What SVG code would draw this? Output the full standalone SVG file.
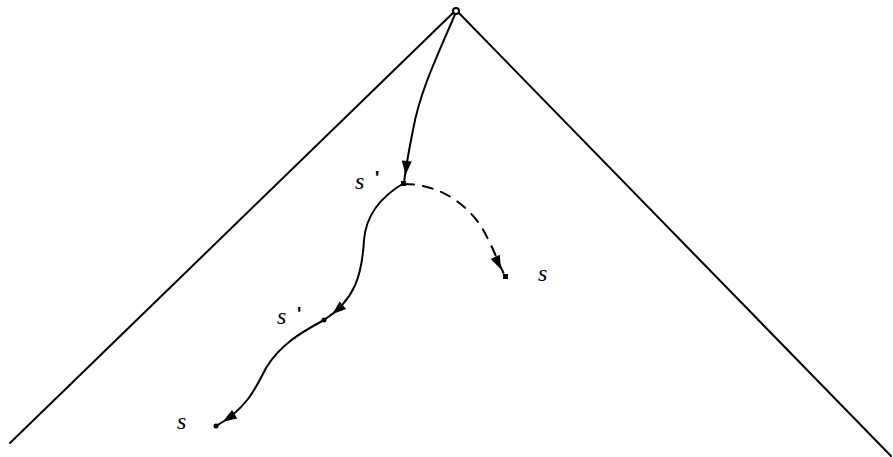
<svg xmlns="http://www.w3.org/2000/svg" width="893" height="457" viewBox="0 0 893 457">
<style>
.ln{fill:none;stroke:#000;stroke-width:2;stroke-linecap:round}
.dash{stroke-dasharray:10,9}
.ah{fill:#000}
.lbl{font-family:"Liberation Serif",serif;font-style:italic;font-size:24px;fill:#000}
.pr{font-family:"Liberation Sans",sans-serif;font-size:18px;fill:#000;font-weight:bold}
</style>
<rect width="893" height="457" fill="#fff"/>
<g id="cone">
<path class="ln" d="M456,10 L10,443"/>
<path class="ln" d="M456,10 L891,456"/>
</g>
<g id="connectors">
<path class="ln" d="M456,12 C440,50 420,90 413,130 C409,150 406,165 404,183"/>
<path class="ln" d="M404,183 C382,196 366,215 364,240 C362,275 355,300 324,320"/>
<path class="ln" d="M324,320 C300,333 280,345 266,368 C255,390 245,410 216,426"/>
<path class="ln dash" d="M404,184 C440,184 468,205 482,228 C492,245 498,262 505,276"/>
<polygon class="ah" points="-5,-9 5,-9 0,5" transform="translate(406,170) rotate(5)"/>
<polygon class="ah" points="-5,-9 5,-9 0,5" transform="translate(336,311) rotate(50)"/>
<polygon class="ah" points="-5,-9 5,-9 0,5" transform="translate(227,419) rotate(58)"/>
<polygon class="ah" points="-5,-9 5,-9 0,5" transform="translate(499,265) rotate(-25)"/>
</g>
<g id="apex"><circle cx="456" cy="11" r="3" fill="#fff" stroke="#000" stroke-width="2"/></g>
<g id="s1prime"><rect x="401" y="181" width="5" height="5" fill="#000"/><text class="lbl" x="355" y="189">s</text><text class="pr" x="375" y="184">'</text></g>
<g id="s1"><rect x="503" y="274" width="5" height="5" fill="#000"/><text class="lbl" x="538" y="281">s</text></g>
<g id="s2prime"><circle cx="324" cy="320" r="2.5" fill="#000"/><text class="lbl" x="277" y="324">s</text><text class="pr" x="297" y="320">'</text></g>
<g id="s2"><circle cx="216" cy="426" r="2.5" fill="#000"/><text class="lbl" x="177" y="429">s</text></g>
</svg>
